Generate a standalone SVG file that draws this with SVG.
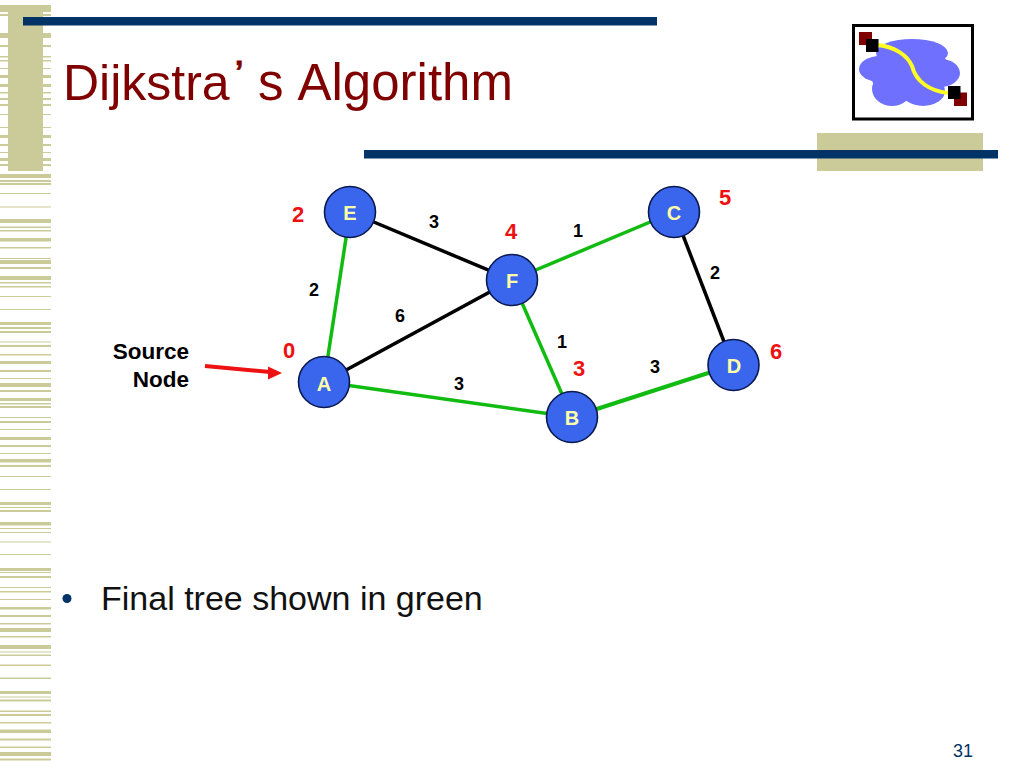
<svg xmlns="http://www.w3.org/2000/svg" width="1024" height="768" viewBox="0 0 1024 768">
<style>
text{font-family:"Liberation Sans",Arial,sans-serif}
.tan{fill:#cbcb99}
.bar{fill:#003366}
.edge{fill:none;stroke-width:3.500}
.g{stroke:#11bb11}
.k{stroke:#000}
.n{fill:#3a66ee;stroke:#0a1a50;stroke-width:1.600}
.nl{fill:#ffffa8;font-size:20px;font-weight:bold;text-anchor:middle}
.d{fill:#ee1111;font-size:22px;font-weight:bold;text-anchor:middle}
.w{fill:#000;font-size:18px;font-weight:bold;text-anchor:middle}
.s{fill:#000;font-size:22.500px;font-weight:bold;text-anchor:end}
.c{fill:#7070ff}
</style>
<rect width="1024" height="768" fill="#fff"/>
<g id="decor-strip" class="tan">
<path d="M0 5h51v5H0zM0 10h51v2H0zM0 14h51v2H0zM0 33h51v5H0zM0 45h51v2H0zM0 56h51v1.500H0zM0 60h51v1.500H0zM0 68h51v1H0zM0 75h51v3H0zM0 84h51v3H0zM0 92h51v1.500H0zM0 98h51v2H0zM0 104h51v2H0zM0 114h51v1H0zM0 127h51v1H0zM0 135h51v3H0zM0 144h51v2H0zM0 152h51v1H0zM0 158h51v3H0zM0 164h51v2H0z"/>
<path d="M0 174h51v4H0zM0 180h51v2H0zM0 183h51v2H0zM0 193h51v1H0zM0 206.500h51v1H0zM0 219h51v4H0zM0 226.500h51v1.500H0zM0 230h51v1.500H0zM0 238h51v3.500H0zM0 247h51v1.500H0zM0 258h51v1H0z"/>
<path d="M0 260h51v4H0zM0 267h51v2H0zM0 276h51v4H0zM0 282h51v1.500H0zM0 286h51v1.500H0zM0 296h51v1H0zM0 309h51v1H0zM0 322h51v3H0zM0 327h51v2H0zM0 331h51v2H0zM0 341.500h51v1H0zM0 345h51v2H0zM0 354h51v1.500H0zM0 361h51v3H0zM0 370h51v2H0zM0 378h51v1H0zM0 383h51v4H0z"/>
<path d="M0 390h51v2H0zM0 398h51v3H0zM0 403h51v1.500H0zM0 406h51v2H0zM0 417h51v1H0zM0 421h51v2H0zM0 429h51v1H0zM0 437h51v3H0zM0 445h51v2H0zM0 453h51v1H0zM0 459h51v3.500H0zM0 465h51v2H0zM0 476h51v1H0zM0 489h51v1H0zM0 502h51v3H0zM0 507h51v1H0z"/>
<path d="M0 510h51v2H0zM0 522h51v3.500H0zM0 528h51v1H0zM0 532h51v1H0zM0 541.500h51v1H0zM0 554h51v1H0zM0 568h51v3H0zM0 572h51v1H0zM0 576h51v2H0zM0 587h51v1H0zM0 591h51v1.500H0zM0 599h51v1H0zM0 607h51v2.500H0zM0 615h51v2H0zM0 623h51v1.500H0zM0 628h51v4H0zM0 636h51v1.500H0z"/>
<path d="M0 645h51v4H0zM0 651.500h51v1H0zM0 654.500h51v1.500H0zM0 664.500h51v1.500H0zM0 677.500h51v1.500H0zM0 691h51v3H0zM0 696.500h51v1H0zM0 699.500h51v2H0zM0 710.500h51v1.500H0zM0 714h51v2H0zM0 722h51v1.500H0zM0 729.500h51v3.500H0zM0 738.500h51v2H0zM0 746.500h51v1.500H0zM0 752h51v4H0zM0 758.500h51v2H0z"/>
<rect x="8" y="5" width="35" height="166"/>
<rect x="817" y="133" width="166" height="38"/>
</g>
<rect id="rule-top" class="bar" x="23" y="17" width="634" height="8.500"/>
<rect id="rule-bottom" class="bar" x="364" y="150" width="634" height="8.500"/>
<text id="title" y="100" font-size="50" fill="#800000"><tspan x="63">Dijkstra</tspan><tspan x="235" y="81" font-size="30" font-weight="bold" stroke="#800000" stroke-width="0.800">’</tspan><tspan x="258" y="100" font-size="51">s</tspan><tspan x="297.500" y="100" font-size="51">Algorithm</tspan></text>
<g id="logo">
<rect x="853.500" y="25.500" width="119" height="93.500" fill="#fff" stroke="#000" stroke-width="3"/>
<ellipse class="c" cx="912" cy="53" rx="36" ry="14"/>
<ellipse class="c" cx="880" cy="69" rx="21" ry="13"/>
<ellipse class="c" cx="940" cy="73" rx="20" ry="14"/>
<ellipse class="c" cx="892" cy="89" rx="20" ry="17"/>
<ellipse class="c" cx="923" cy="91" rx="22" ry="15"/>
<ellipse class="c" cx="910" cy="72" rx="40" ry="29"/>
<path d="M878 45C895 47 907 55 912 66C916 82 930 91 948 93" fill="none" stroke="#ffff22" stroke-width="4"/>
<rect x="859" y="32" width="13" height="13" fill="#800000"/>
<rect x="866" y="39" width="12.500" height="13" fill="#000"/>
<rect x="954" y="92.500" width="13" height="13.500" fill="#800000"/>
<rect x="948" y="86" width="12.500" height="13" fill="#000"/>
</g>
<g id="connectors">
<line class="edge g" x1="350" y1="212" x2="324" y2="382"/>
<line class="edge k" x1="350" y1="212" x2="512" y2="280"/>
<line class="edge k" x1="324" y1="382" x2="512" y2="280"/>
<line class="edge g" x1="324" y1="382" x2="572" y2="417"/>
<line class="edge g" x1="512" y1="280" x2="674" y2="212"/>
<line class="edge g" x1="512" y1="280" x2="572" y2="417"/>
<line class="edge k" x1="674" y1="212" x2="733" y2="365"/>
<line class="edge g" x1="572" y1="417" x2="733" y2="365" style="stroke-width:4"/>
<path id="source-arrow" d="M205 366L270 372" fill="none" stroke="#ee1111" stroke-width="4"/>
<polygon points="282,373 268,366.500 268,379.500" fill="#ee1111"/>
</g>
<g id="node-A"><circle class="n" cx="324" cy="382" r="25.500"/><text class="nl" x="324" y="391">A</text></g>
<g id="node-B"><circle class="n" cx="572" cy="417" r="25.500"/><text class="nl" x="572" y="425">B</text></g>
<g id="node-C"><circle class="n" cx="674" cy="212" r="25.500"/><text class="nl" x="674" y="220">C</text></g>
<g id="node-D"><circle class="n" cx="733.500" cy="365" r="25.500"/><text class="nl" x="734" y="373">D</text></g>
<g id="node-E"><circle class="n" cx="350" cy="212" r="25.500"/><text class="nl" x="350" y="220">E</text></g>
<g id="node-F"><circle class="n" cx="512" cy="280" r="25.500"/><text class="nl" x="512" y="288">F</text></g>
<g id="distances">
<text class="d" x="298" y="222">2</text>
<text class="d" x="511" y="239">4</text>
<text class="d" x="725" y="205">5</text>
<text class="d" x="776" y="359">6</text>
<text class="d" x="579" y="376">3</text>
<text class="d" x="289" y="358">0</text>
</g>
<g id="weights">
<text class="w" x="434" y="228">3</text>
<text class="w" x="314" y="296">2</text>
<text class="w" x="400" y="322">6</text>
<text class="w" x="459" y="390">3</text>
<text class="w" x="578" y="237">1</text>
<text class="w" x="715" y="279">2</text>
<text class="w" x="562" y="348">1</text>
<text class="w" x="655" y="373">3</text>
</g>
<g id="source-label"><text class="s" x="189" y="359">Source</text><text class="s" x="189" y="387">Node</text></g>
<circle id="bullet" cx="67" cy="598.500" r="4.500" fill="#003366"/>
<text id="body" x="101" y="610" font-size="34" fill="#111">Final tree shown in green</text>
<text id="page" x="973" y="757" font-size="18" fill="#003366" text-anchor="end">31</text>
</svg>
